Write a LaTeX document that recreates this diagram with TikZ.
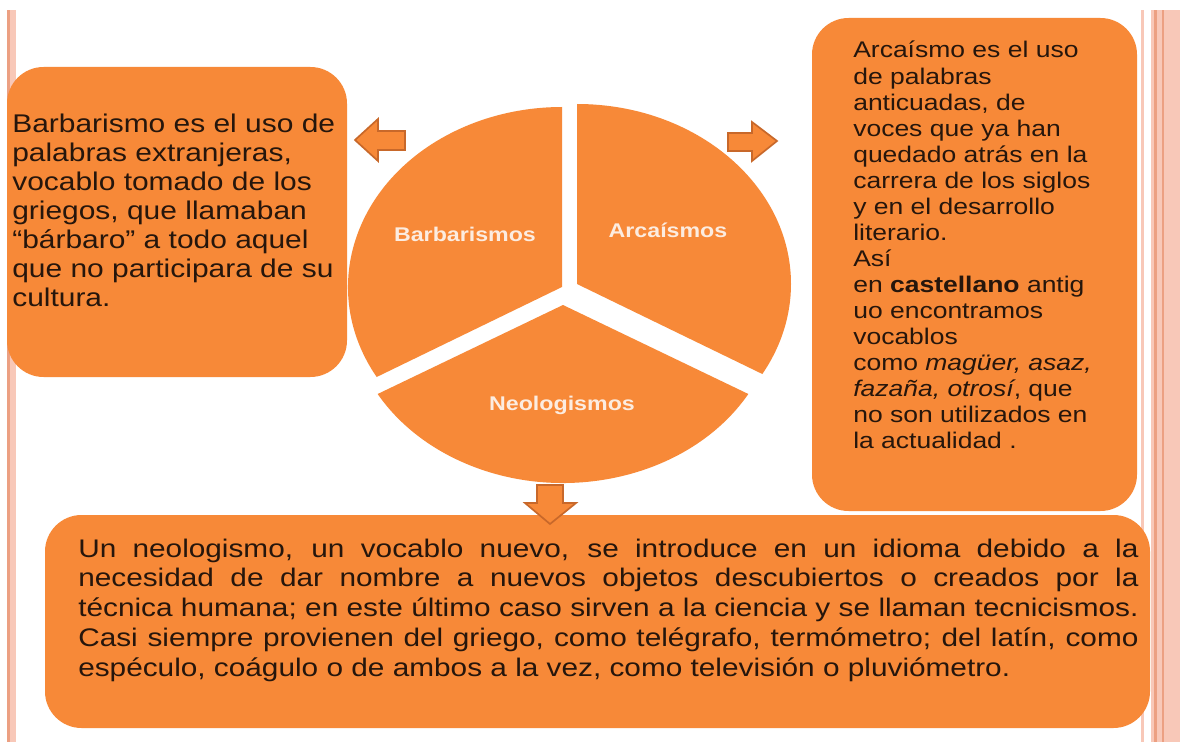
\documentclass[tikz,border=0pt]{standalone}
\usepackage{fontspec}
\setmainfont[FakeStretch=1.17]{Liberation Sans}
\usetikzlibrary{positioning}

\definecolor{naranja}{RGB}{247,137,56}
\definecolor{borde}{RGB}{200,104,42}
\definecolor{tinta}{RGB}{38,22,12}
\definecolor{crema}{RGB}{252,236,224}
\definecolor{rosa}{RGB}{248,200,184}
\definecolor{rosaosc}{RGB}{236,160,130}

\begin{document}
\begin{tikzpicture}[x=0.025cm,y=-0.025cm,
    caja/.style={fill=naranja,rounded corners=26pt},
    texto/.style={anchor=base west,inner sep=0pt,text=tinta},
    etiqueta/.style={text=crema,inner sep=0pt,font=\bfseries\fontsize{14.1pt}{16pt}\selectfont},
    flecha/.style={fill=naranja,draw=borde,line width=1.2pt}]
        \useasboundingbox[fill=white] (0,0) rectangle (1180,742);
        % franjas de los bordes
        \fill[rosaosc] (7,10) rectangle (9.5,742);
        \fill[rosa] (10,10) rectangle (16,742);
        \fill[rosa] (1141,10) rectangle (1144,742);
        \fill[rosa] (1151,10) rectangle (1154,742);
        \fill[rosaosc] (1154,10) rectangle (1156.5,742);
        \fill[rosa] (1157,10) rectangle (1180,742);
        \fill[rosaosc] (1162,10) rectangle (1163.5,742);
        % cajas
        \fill[caja] (7,67) rectangle (347,377);
        \fill[caja] (812,18) rectangle (1137,511);
        \fill[caja] (45,515) rectangle (1150,728);
        % circulo en tres partes
        \fill[naranja] (562,287) -- ++(150:214 and 180) arc[start angle=150,end angle=270,x radius=214,y radius=180] -- cycle;
        \fill[naranja] (577,284) -- ++(270:214 and 180) arc[start angle=270,end angle=390,x radius=214,y radius=180] -- cycle;
        \fill[naranja] (563,305) -- ++(30:214 and 178) arc[start angle=30,end angle=150,x radius=214,y radius=178] -- cycle;
        \node[etiqueta] (barb) at (465,234) {Barbarismos};
        \node[etiqueta] (arca) at (668,230) {Arcaísmos};
        \node[etiqueta] (neol) at (562,405) {Neologismos};
        % flechas
        \draw[flecha] (355,140) -- (378,119) -- (378,131) -- (405,131) -- (405,150) -- (378,150) -- (378,161) -- cycle;
        \draw[flecha] (777,141) -- (752,122) -- (752,133) -- (728,133) -- (728,151) -- (752,151) -- (752,161) -- cycle;
        \draw[flecha] (550,524) -- (525,503) -- (537,503) -- (537,485) -- (563,485) -- (563,503) -- (576,503) -- cycle;
        % textos
        \node[texto] (bartxt) at (12,133) {\parbox[t]{8.4cm}{\raggedright\fontsize{18.2pt}{20.6pt}\selectfont
            Barbarismo es el uso de\\ palabras extranjeras,\\ vocablo tomado de los\\ griegos, que llamaban\\
            “bárbaro” a todo aquel\\ que no participara de su\\ cultura.}};
        \node[texto] (arctxt) at (853,58) {\parbox[t]{7cm}{\raggedright\fontsize{16.1pt}{18.5pt}\selectfont
            Arcaísmo es el uso\\ de palabras\\ anticuadas, de\\ voces que ya han\\ quedado atrás en la\\
            carrera de los siglos\\ y en el desarrollo\\ literario.\\ Así\\ en \textbf{castellano} antig\\
            uo encontramos\\ vocablos\\ como \textit{magüer, asaz,}\\ \textit{fazaña, otrosí}, que\\
            no son utilizados en\\ la actualidad .}};
        \node[texto] (neotxt) at (78,557) {\parbox[t]{26.5cm}{\fontsize{18.1pt}{21.3pt}\selectfont
            \tolerance=10000 \hyphenpenalty=10000 \exhyphenpenalty=10000
            Un neologismo, un vocablo nuevo, se introduce en un idioma debido a la\linebreak
            necesidad de dar nombre a nuevos objetos descubiertos o creados por la\linebreak
            técnica humana; en este último caso sirven a la ciencia y se llaman tecnicismos.\linebreak
            Casi siempre provienen del griego, como telégrafo, termómetro; del latín, como\linebreak
            espéculo, coágulo o de ambos a la vez, como televisión o pluviómetro.}};
    \end{tikzpicture}
\end{document}
